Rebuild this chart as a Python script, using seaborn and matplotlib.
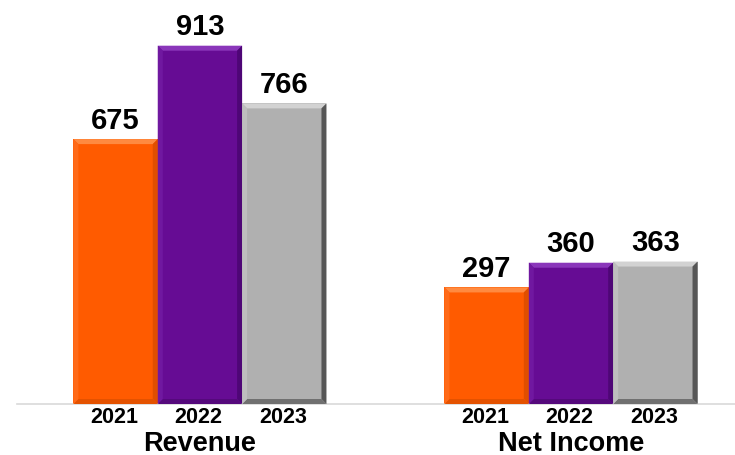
import matplotlib
matplotlib.use("Agg")
import matplotlib.pyplot as plt
from matplotlib.patches import Polygon
import seaborn as sns
import pandas as pd
import numpy as np

metrics = ["Revenue", "Net Income"]
years = ["2021", "2022", "2023"]
revenue = [675, 913, 766]
net_income = [297, 360, 363]
colors = ["#FF5B00", "#660C94", "#B0B0B0"]
tops = ["#FF8A40", "#8A36BA", "#D2D2D2"]
rights = ["#E04E00", "#4E0676", "#565656"]
bottoms = ["#E45200", "#55097C", "#707070"]
lefts = ["#FF6A18", "#7018A0", "#BEBEBE"]

rows = []
for m, vals in zip(metrics, [revenue, net_income]):
    for y, v in zip(years, vals):
        rows.append({"metric": m, "year": y, "value": v})
df = pd.DataFrame(rows)

sns.set_theme(style="white")
plt.rcParams["font.family"] = ["Liberation Sans", "DejaVu Sans"]

fig = plt.figure(figsize=(7.35, 4.56), dpi=100)
ax = fig.add_axes([17 / 735, 51 / 456, 718 / 735, 405 / 456])

sns.barplot(data=df, x="metric", y="value", hue="year", order=metrics,
            hue_order=years, palette=colors, width=0.682, saturation=1,
            legend=False, ax=ax, linewidth=0)

ax.set_xlim(-0.493, 1.442)
ax.set_ylim(0, 1032)

# bevel effect derived from bar geometry
bx = 5 / 371.5
by = 5 / (405 / 1032)
for i, p in enumerate(list(ax.patches)):
    x0, w, h = p.get_x(), p.get_width(), p.get_height()
    x1 = x0 + w
    k = i // len(metrics)
    ax.add_patch(Polygon([(x0, h), (x1, h), (x1 - bx, h - by), (x0 + bx, h - by)],
                         closed=True, facecolor=tops[k], edgecolor="none", zorder=3))
    ax.add_patch(Polygon([(x1, h), (x1, 0), (x1 - bx, by), (x1 - bx, h - by)],
                         closed=True, facecolor=rights[k], edgecolor="none", zorder=3))
    ax.add_patch(Polygon([(x0, 0), (x1, 0), (x1 - bx, by), (x0 + bx, by)],
                         closed=True, facecolor=bottoms[k], edgecolor="none", zorder=3))
    ax.add_patch(Polygon([(x0, 0), (x0, h), (x0 + bx, h - by), (x0 + bx, by)],
                         closed=True, facecolor=lefts[k], edgecolor="none", zorder=3))
    ax.annotate(years[k], xy=(x0 + w / 2, 0), xycoords="data",
                xytext=(-1, -1.4), textcoords="offset points",
                ha="center", va="top", fontsize=15.5, fontweight="bold",
                color="black", annotation_clip=False)

for c in ax.containers:
    ax.bar_label(c, fmt="%d", padding=4, fontsize=21, fontweight="bold", color="black")

ax.set_xticks([0, 1])
ax.set_xticklabels(metrics, fontsize=19.5, fontweight="bold", color="black")
ax.tick_params(axis="x", which="major", length=0, pad=18.9)

ax.set_yticks([])
ax.set_xlabel("")
ax.set_ylabel("")
for s in ["left", "top", "right"]:
    ax.spines[s].set_visible(False)
ax.spines["bottom"].set_color("#D9D9D9")
ax.spines["bottom"].set_linewidth(1.2)
ax.patch.set_alpha(0)

fig.savefig("out.png", dpi=100)
